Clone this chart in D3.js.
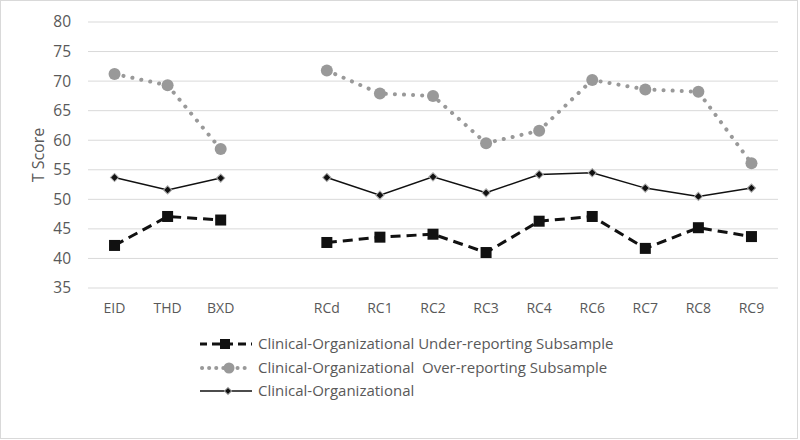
<!DOCTYPE html>
<html>
<head>
<meta charset="utf-8">
<script src="https://cdn.jsdelivr.net/npm/d3@7"></script>
<style>
  body { margin: 0; background: #fff; }
  svg { display: block; }
  text { font-family: 'Open Sans', 'Noto Sans', sans-serif; fill: #595959; }
</style>
</head>
<body>
<div id="chart"></div>
<script>
// categories (empty slot between BXD and RCd)
var categories = ['EID', 'THD', 'BXD', '', 'RCd', 'RC1', 'RC2', 'RC3', 'RC4', 'RC6', 'RC7', 'RC8', 'RC9']
var underValues = [42.2, 47.1, 46.5, null, 42.7, 43.6, 44.1, 41.0, 46.3, 47.1, 41.7, 45.2, 43.7]
var overValues = [71.2, 69.3, 58.5, null, 71.8, 67.9, 67.5, 59.5, 61.6, 70.2, 68.6, 68.2, 56.1]
var clinicalValues = [53.7, 51.6, 53.6, null, 53.7, 50.7, 53.8, 51.1, 54.2, 54.5, 51.9, 50.5, 51.9]
var yTicks = [35, 40, 45, 50, 55, 60, 65, 70, 75, 80]
var seriesNames = [
  'Clinical-Organizational Under-reporting Subsample',
  'Clinical-Organizational  Over-reporting Subsample',
  'Clinical-Organizational'
]

var W = 800, H = 440
var margin = { left: 88, right: 22, top: 22, bottom: 152 }

var svg = d3.select('#chart').append('svg').attr('width', W).attr('height', H)

// outer frame
svg.append('rect')
  .attr('x', 0.5).attr('y', 0.5)
  .attr('width', W - 3).attr('height', H - 2)
  .attr('fill', '#fff').attr('stroke', '#d9d9d9')

var x = d3.scaleBand().domain(d3.range(categories.length))
  .range([margin.left, W - margin.right])
var y = d3.scaleLinear().domain([35, 80]).range([H - margin.bottom, margin.top])

// grid
svg.append('g').selectAll('line').data(yTicks).enter().append('line')
  .attr('x1', margin.left).attr('x2', W - margin.right)
  .attr('y1', function (d) { return y(d) }).attr('y2', function (d) { return y(d) })
  .attr('stroke', '#d9d9d9').attr('stroke-width', 1)

// y tick labels
svg.append('g').selectAll('text').data(yTicks).enter().append('text')
  .attr('x', 71).attr('y', function (d) { return y(d) })
  .attr('dy', '0.35em').attr('text-anchor', 'end')
  .attr('font-size', 15.5)
  .text(function (d) { return d })

// x labels
svg.append('g').selectAll('text').data(categories).enter().append('text')
  .attr('x', function (d, i) { return x(i) + x.bandwidth() / 2 })
  .attr('y', 308).attr('dy', '0.35em').attr('text-anchor', 'middle')
  .attr('font-size', 14)
  .text(function (d) { return d })

// y axis title
svg.append('text')
  .attr('transform', 'translate(38,' + ((y(35) + y(80)) / 2) + ') rotate(-90)')
  .attr('text-anchor', 'middle').attr('dy', '0.35em')
  .attr('font-size', 16)
  .text('T Score')

function cx (i) { return x(i) + x.bandwidth() / 2 }

var line = d3.line()
  .defined(function (d) { return d !== null })
  .x(function (d, i) { return cx(i) })
  .y(function (d) { return y(d) })

function pts (values) {
  return values.map(function (v, i) { return { v: v, i: i } }).filter(function (d) { return d.v !== null })
}

// over-reporting (gray dotted, circles)
svg.append('path').datum(overValues).attr('d', line)
  .attr('fill', 'none').attr('stroke', '#999').attr('stroke-width', 4)
  .attr('stroke-linecap', 'round').attr('stroke-dasharray', '0.1,9')
svg.append('g').selectAll('circle').data(pts(overValues)).enter().append('circle')
  .attr('cx', function (d) { return cx(d.i) }).attr('cy', function (d) { return y(d.v) })
  .attr('r', 6).attr('fill', '#999')

// clinical (solid, diamonds)
svg.append('path').datum(clinicalValues).attr('d', line)
  .attr('fill', 'none').attr('stroke', '#111').attr('stroke-width', 1.5)
var diamond = d3.symbol().type(d3.symbolSquare).size(34)
svg.append('g').selectAll('path').data(pts(clinicalValues)).enter().append('path')
  .attr('d', diamond)
  .attr('transform', function (d) { return 'translate(' + cx(d.i) + ',' + y(d.v) + ') rotate(45)' })
  .attr('fill', '#111').attr('stroke', '#aaa').attr('stroke-width', 1)

// under-reporting (black dashed, squares)
svg.append('path').datum(underValues).attr('d', line)
  .attr('fill', 'none').attr('stroke', '#111').attr('stroke-width', 3)
  .attr('stroke-dasharray', '10,6')
svg.append('g').selectAll('rect').data(pts(underValues)).enter().append('rect')
  .attr('x', function (d) { return cx(d.i) - 5.5 }).attr('y', function (d) { return y(d.v) - 5.5 })
  .attr('width', 11).attr('height', 11).attr('fill', '#111')

// legend
var legY = [344, 368, 391]
var lg = svg.append('g')
// under
lg.append('line').attr('x1', 200).attr('x2', 252).attr('y1', legY[0]).attr('y2', legY[0])
  .attr('stroke', '#111').attr('stroke-width', 3).attr('stroke-dasharray', '8,5')
  .attr('stroke-dashoffset', 1)
lg.append('rect').attr('x', 220).attr('y', legY[0] - 5).attr('width', 10).attr('height', 10).attr('fill', '#111')
// over
lg.append('line').attr('x1', 202).attr('x2', 250).attr('y1', legY[1]).attr('y2', legY[1])
  .attr('stroke', '#999').attr('stroke-width', 4).attr('stroke-linecap', 'round')
  .attr('stroke-dasharray', '0.1,7')
lg.append('circle').attr('cx', 229).attr('cy', legY[1]).attr('r', 5.5).attr('fill', '#999')
// clinical
lg.append('line').attr('x1', 200).attr('x2', 252).attr('y1', legY[2]).attr('y2', legY[2])
  .attr('stroke', '#111').attr('stroke-width', 1.5)
lg.append('path').attr('d', d3.symbol().type(d3.symbolSquare).size(26))
  .attr('transform', 'translate(228,' + legY[2] + ') rotate(45)')
  .attr('fill', '#111').attr('stroke', '#aaa').attr('stroke-width', 1)

lg.selectAll('text.leg').data(seriesNames).enter().append('text')
  .attr('class', 'leg')
  .attr('x', 258).attr('y', function (d, i) { return legY[i] })
  .attr('dy', '0.35em').attr('font-size', 15)
  .style('white-space', 'pre').attr('xml:space', 'preserve')
  .text(function (d) { return d })
</script>
</body>
</html>
